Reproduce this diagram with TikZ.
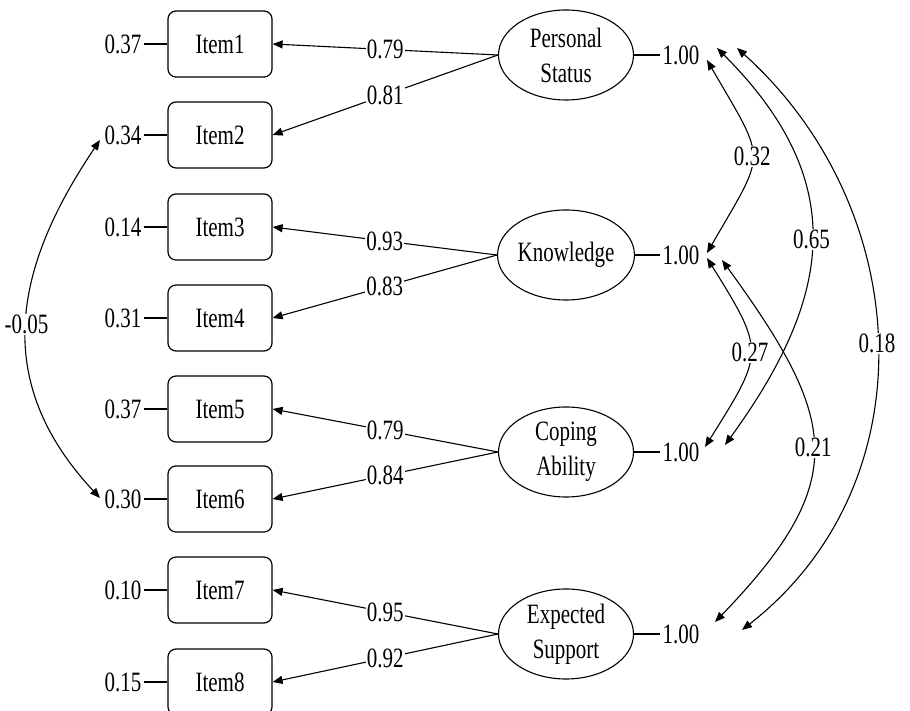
\documentclass[tikz,border=0pt]{standalone}
\usepackage{fontspec}
\setmainfont[FakeStretch=0.75]{Liberation Serif}
\usetikzlibrary{arrows.meta,shapes.geometric}
\tikzset{
	item/.style={draw, rounded corners=8bp, minimum width=104bp, minimum height=66bp, line width=1.2bp},
	factor/.style={draw, ellipse, align=center, inner sep=0pt, minimum width=135bp, minimum height=90bp, line width=1.1bp},
	val/.style={inner sep=2bp},
	coeff/.style={fill=white, inner sep=1bp},
	load/.style={-{Triangle[length=10bp,width=8bp]}, line width=1.1bp},
	cov/.style={{Triangle[length=10bp,width=8bp]}-{Triangle[length=10bp,width=8bp]}, line width=1.1bp}
}

\begin{document}
\begin{tikzpicture}[x=1bp, y=1bp, every node/.style={font=\fontsize{28bp}{35bp}\selectfont}]
		\useasboundingbox (0,0) rectangle (910,711);

		\foreach \i/\y/\e in {1/667/0.37, 2/576/0.34, 3/484/0.14, 4/393/0.31, 5/302/0.37, 6/212/0.30, 7/121/0.10, 8/29/0.15} {
			\node[item]	(i\i) at (220,\y) {Item\i};
			\node[val]	(e\i) at (123,\y) {\e};
			\draw[line width=1.1bp]	(e\i) -- (i\i);
		}

		\foreach \f/\y/\lbl/\a/\b/\la/\lb in {ps/656/{Personal\\Status}/1/2/0.79/0.81, kn/456/{Knowledge}/3/4/0.93/0.83, ca/259/{Coping\\Ability}/5/6/0.79/0.84, es/77/{Expected\\Support}/7/8/0.95/0.92} {
			\node[factor]	(\f) at (566,\y) {\lbl};
			\node[val]	(v\f) at (681,\y) {1.00};
			\draw[line width=1.1bp]	(\f) -- (v\f);
			\draw[load]	(\f.west) to node[coeff]{\la} (i\a.east);
			\draw[load]	(\f.west) to node[coeff]{\lb} (i\b.east);
		}

		\coordinate (ps1) at (707,651);
		\coordinate (ps2) at (717,663);
		\coordinate (ps3) at (737,663);
		\coordinate (kn1) at (707,458);
		\coordinate (kn2) at (707,453);
		\coordinate (kn3) at (722,451);
		\coordinate (ca1) at (725,266);
		\coordinate (ca2) at (705,264);
		\coordinate (es1) at (715,89);
		\coordinate (es2) at (742,81);
		\coordinate (r2) at (100,571);
		\coordinate (r6) at (100,213);

		\draw[cov]	(ps1) to[out=-60, in=60, looseness=1.6] node[coeff]{0.32} (kn1);
		\draw[cov]	(ps2) to[out=-45, in=54, looseness=1.2] node[coeff]{0.65} (ca1);
		\draw[cov]	(ps3) to[out=-42, in=38, looseness=1.05] node[coeff]{0.18} (es2);
		\draw[cov]	(kn2) to[out=-58, in=58, looseness=1.5] node[coeff]{0.27} (ca2);
		\draw[cov]	(kn3) to[out=-54, in=46, looseness=1.39] node[coeff]{0.21} (es1);
		\draw[cov]	(r2) to[out=-124, in=133, looseness=1.13] node[coeff]{-0.05} (r6);
	\end{tikzpicture}
\end{document}
